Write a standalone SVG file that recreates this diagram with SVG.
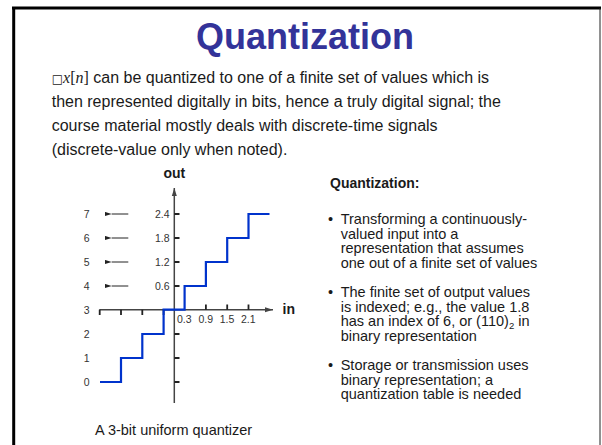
<svg xmlns="http://www.w3.org/2000/svg" width="602" height="445" viewBox="0 0 602 445">
<style>
.t{font-family:"Liberation Sans",Arial,sans-serif;fill:#1a1a1a}
.body{font-size:16px}
.bul{font-size:14.5px}
.sm{font-size:10.5px;fill:#333}
.ax{stroke:#444;stroke-width:1.5;fill:none}
.tk{stroke:#222;stroke-width:1.8}
.ar{stroke:#222;stroke-width:1;marker-start:url(#ah)}
</style>
<defs>
<marker id="ah" viewBox="0 0 7 5" refX="0" refY="2.5" markerWidth="7" markerHeight="5" markerUnits="userSpaceOnUse" orient="auto-start-reverse">
<path d="M0,2.5 L7,0.3 L7,4.7 Z" fill="#222"/>
</marker>
<marker id="axh" viewBox="0 0 8 6" refX="8" refY="3" markerWidth="8" markerHeight="6" markerUnits="userSpaceOnUse" orient="auto">
<path d="M0,0.5 L8,3 L0,5.5 Z" fill="#444"/>
</marker>
</defs>
<rect width="602" height="445" fill="#fff"/>
<g id="frame">
<line x1="12" y1="8" x2="601" y2="8" stroke="#000" stroke-width="3"/>
<line x1="13.7" y1="7" x2="13.7" y2="445" stroke="#000" stroke-width="3"/>
<line x1="600" y1="8" x2="600" y2="445" stroke="#222" stroke-width="1"/>
</g>
<text id="title" x="305" y="49" text-anchor="middle" font-family="'Liberation Sans',Arial,sans-serif" font-weight="bold" font-size="36" fill="#333399">Quantization</text>
<g id="intro" class="t body">
<text x="51.7" y="82.5"><tspan font-family="'DejaVu Sans',sans-serif" font-size="12">□</tspan><tspan font-family="'Liberation Serif','Times New Roman',serif" font-style="italic">x</tspan><tspan font-family="'Liberation Serif','Times New Roman',serif">[</tspan><tspan font-family="'Liberation Serif','Times New Roman',serif" font-style="italic">n</tspan><tspan font-family="'Liberation Serif','Times New Roman',serif">]</tspan> can be quantized to one of a finite set of values which is</text>
<text x="51.7" y="106.7">then represented digitally in bits, hence a truly digital signal; the</text>
<text x="51.7" y="130.9">course material mostly deals with discrete-time signals</text>
<text x="51.7" y="155.1">(discrete-value only when noted).</text>
</g>
<g id="graph">
<g id="axes">
<line class="ax" x1="174.3" y1="403" x2="174.3" y2="188" marker-end="url(#axh)"/>
<line class="ax" x1="99.3" y1="309.7" x2="273" y2="309.7" marker-end="url(#axh)"/>
<path class="tk" d="M174.3,214H179.5M174.3,238H179.5M174.3,262H179.5M174.3,286H179.5M174.3,334H179.5M174.3,358H179.5M174.3,382H179.5"/>
<path class="tk" d="M99.7,309.7V315M121,309.7V315M142.3,309.7V315M163.6,309.7V315M205.9,309.7V304.5M227.2,309.7V304.5M248.5,309.7V304.5"/>
</g>
<path id="staircase" d="M100,382H121V358H142.3V334H163.6V309.7H184.6V286H205.9V262H227.2V238H248.5V214H269.5" fill="none" stroke="#0033cc" stroke-width="2.2"/>
<text class="t" x="174.3" y="178" text-anchor="middle" font-weight="bold" font-size="14">out</text>
<text class="t" x="282.5" y="314" font-weight="bold" font-size="14">in</text>
<g class="t sm" text-anchor="middle">
<text x="86.7" y="218">7</text>
<text x="86.7" y="242">6</text>
<text x="86.7" y="266">5</text>
<text x="86.7" y="290">4</text>
<text x="86.7" y="313.5">3</text>
<text x="86.7" y="337.5">2</text>
<text x="86.7" y="361.5">1</text>
<text x="86.7" y="385.5">0</text>
</g>
<g class="t sm" text-anchor="end">
<text x="169.5" y="218">2.4</text>
<text x="169.5" y="242">1.8</text>
<text x="169.5" y="266">1.2</text>
<text x="169.5" y="290">0.6</text>
</g>
<g class="t sm" text-anchor="middle">
<text x="184.3" y="323">0.3</text>
<text x="205.7" y="323">0.9</text>
<text x="227" y="323">1.5</text>
<text x="248.3" y="323">2.1</text>
</g>
<g id="index-arrows">
<line class="ar" x1="111.7" y1="214" x2="128.3" y2="214"/>
<line class="ar" x1="111.7" y1="238" x2="128.3" y2="238"/>
<line class="ar" x1="111.7" y1="262" x2="128.3" y2="262"/>
<line class="ar" x1="111.7" y1="286" x2="128.3" y2="286"/>
</g>
<text class="t bul" x="95" y="435">A 3-bit uniform quantizer</text>
</g>
<g id="notes" class="t bul">
<text x="330" y="188" font-weight="bold" font-size="14">Quantization:</text>
<text x="328" y="224">•</text>
<text x="340.7" y="224">Transforming a continuously-</text>
<text x="340.7" y="238.7">valued input into a</text>
<text x="340.7" y="253.4">representation that assumes</text>
<text x="340.7" y="268.1">one out of a finite set of values</text>
<text x="328" y="297">•</text>
<text x="340.7" y="297">The finite set of output values</text>
<text x="340.7" y="311.7">is indexed; e.g., the value 1.8</text>
<text x="340.7" y="326.4">has an index of 6, or (110)<tspan font-size="9.5" dy="3">2</tspan><tspan dy="-3"> in</tspan></text>
<text x="340.7" y="341.1">binary representation</text>
<text x="328" y="370">•</text>
<text x="340.7" y="370">Storage or transmission uses</text>
<text x="340.7" y="384.7">binary representation; a</text>
<text x="340.7" y="399.4">quantization table is needed</text>
</g>
</svg>
